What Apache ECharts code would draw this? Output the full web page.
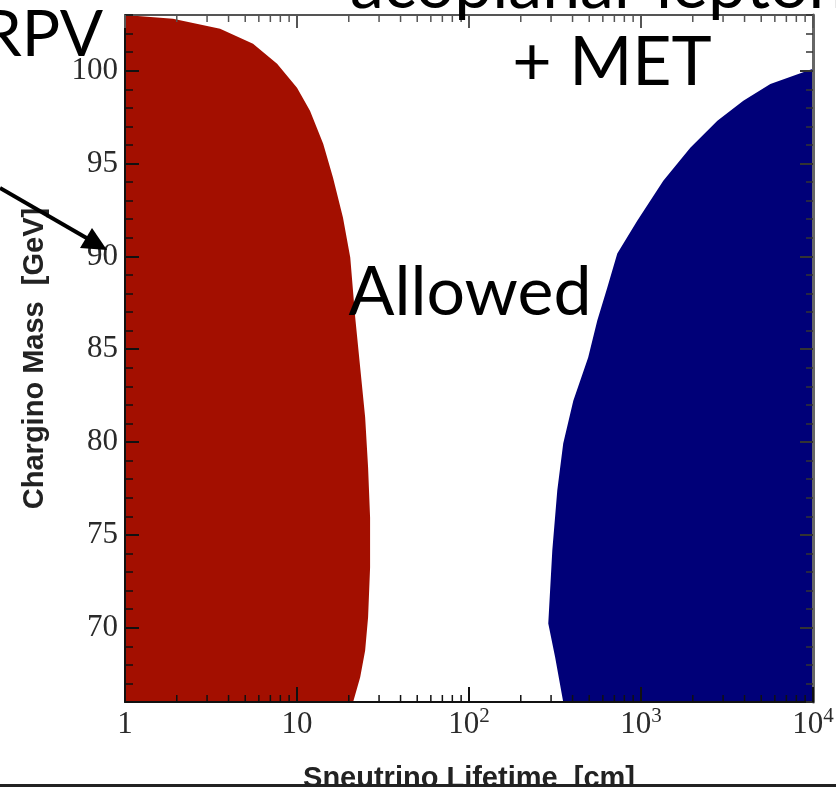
<!DOCTYPE html>
<html>
<head>
<meta charset="utf-8">
<script src="https://cdn.jsdelivr.net/npm/echarts@6/dist/echarts.min.js"></script>
<style>
html,body{margin:0;padding:0;background:#fff;}
#chart{width:836px;height:787px;}
</style>
</head>
<body>
<div id="chart"></div>
<script>
// ---- data ----
// Red excluded region (RPV): boundary, sneutrino lifetime [cm] vs chargino mass [GeV]
const redLife = [1, 1.9, 3.57, 5.55, 7.66, 10, 11.9, 14.2, 16.2, 18.5, 20.4, 21.8, 23.3, 24.9, 25.9, 26.6, 26.6, 25.9, 24.9, 23.3, 21.2, 1];
const redMass = [103, 102.8, 102.26, 101.45, 100.37, 99.08, 97.84, 96.07, 94.24, 92.09, 89.94, 86.71, 84.02, 81.33, 78.63, 75.94, 73.25, 70.56, 68.78, 67.33, 66, 66];
// Blue excluded region (acoplanar leptons + MET)
const blueLife = [10000, 5650, 3935, 2780, 1935, 1348, 951, 728, 637, 557, 493, 404, 353, 326, 305, 289, 317, 353, 10000];
const blueMass = [100.1, 99.29, 98.38, 97.3, 95.85, 94.07, 91.92, 90.15, 88.32, 86.54, 84.55, 82.23, 79.92, 77.39, 74.16, 70.23, 68.4, 66, 66];
// axes
const yMajorTicks = [70, 75, 80, 85, 90, 95, 100];
const xMinorTicks = [2,3,4,5,6,7,8,9,20,30,40,50,60,70,80,90,200,300,400,500,600,700,800,900,2000,3000,4000,5000,6000,7000,8000,9000];
const xRange = [1, 10000];
const yRange = [66, 103];
const xTitle = 'Sneutrino Lifetime  [cm]';
const yTitle = 'Chargino Mass  [GeV]';

const serif = 'Liberation Serif';
const sans = 'Liberation Sans';
const labelColor = '#2a2a2a';

function polygonRenderer(xs, ys, color) {
  return function (params, api) {
    if (params.dataIndex !== 0) return null;
    const pts = xs.map((x, i) => api.coord([x, ys[i]]));
    return { type: 'polygon', shape: { points: pts }, style: { fill: color } };
  };
}

const chart = echarts.init(document.getElementById('chart'), null, { renderer: 'canvas' });

const xLabelFmt = function (v) {
  const e = Math.round(Math.log10(v));
  if (e === 0) return '{b|1}';
  if (e === 1) return '{b|10}';
  return '{b|10}{s|' + e + '}';
};

const yBase = {
  type: 'value', min: yRange[0], max: yRange[1], scale: true,
  splitLine: { show: false }, z: 5
};

chart.setOption({
  animation: false,
  backgroundColor: '#fff',
  grid: { left: 125, right: 23, top: 15, bottom: 85, containLabel: false, outerBoundsMode: 'none' },
  xAxis: [
    {
      type: 'log', logBase: 10, min: xRange[0], max: xRange[1], position: 'bottom',
      splitLine: { show: false }, z: 5,
      axisLine: { show: true, lineStyle: { color: '#111', width: 2 } },
      axisTick: { show: true, inside: true, length: 15, lineStyle: { color: '#111', width: 2 } },
      minorTick: { show: false },
      axisLabel: {
        formatter: xLabelFmt, margin: 4, color: labelColor,
        rich: {
          b: { fontFamily: serif, fontSize: 31, color: labelColor, lineHeight: 34, verticalAlign: 'bottom' },
          s: { fontFamily: serif, fontSize: 21, color: labelColor, lineHeight: 21, verticalAlign: 'top' }
        }
      },
      name: xTitle, nameLocation: 'middle', nameGap: 62,
      nameTextStyle: { fontFamily: sans, fontWeight: 'bold', fontSize: 29, color: '#222' }
    },
    {
      type: 'log', logBase: 10, min: xRange[0], max: xRange[1], position: 'top',
      splitLine: { show: false }, z: 5,
      axisLine: { show: true, lineStyle: { color: '#555', width: 2 } },
      axisTick: { show: true, inside: true, length: 13, lineStyle: { color: '#555', width: 2 } },
      axisLabel: { show: false }
    }
  ],
  yAxis: [
    Object.assign({}, yBase, {
      position: 'left', interval: 1,
      axisLine: { show: true, lineStyle: { color: '#111', width: 2 } },
      axisTick: { show: true, inside: true, length: 8, lineStyle: { color: '#111', width: 1.5 } },
      axisLabel: {
        formatter: v => (v % 5 === 0 ? String(v) : ''),
        fontFamily: serif, fontSize: 31, color: labelColor, margin: 7,
        showMinLabel: true, showMaxLabel: true
      },
      name: yTitle, nameLocation: 'middle', nameGap: 76, nameRotate: 90,
      nameTextStyle: { fontFamily: sans, fontWeight: 'bold', fontSize: 29, color: '#222' }
    }),
    Object.assign({}, yBase, {
      position: 'left',
      axisLine: { show: false },
      axisTick: { show: true, inside: true, length: 14, customValues: yMajorTicks, lineStyle: { color: '#111', width: 2 } },
      axisLabel: { show: false }
    }),
    Object.assign({}, yBase, {
      position: 'right', interval: 1,
      axisLine: { show: true, lineStyle: { color: '#666', width: 3 } },
      axisTick: { show: true, inside: true, length: 7, lineStyle: { color: '#333', width: 1.5 } },
      axisLabel: { show: false }
    }),
    Object.assign({}, yBase, {
      position: 'right',
      axisLine: { show: false },
      axisTick: { show: true, inside: true, length: 13, customValues: yMajorTicks, lineStyle: { color: '#333', width: 2 } },
      axisLabel: { show: false }
    })
  ],
  series: [
    {
      type: 'custom', name: 'RPV', xAxisIndex: 0, yAxisIndex: 0, z: 1, clip: true,
      data: redLife.map((x, i) => [x, redMass[i]]),
      renderItem: polygonRenderer(redLife, redMass, '#a30f00')
    },
    {
      type: 'custom', name: 'acoplanar leptons + MET', xAxisIndex: 0, yAxisIndex: 0, z: 1, clip: true,
      data: blueLife.map((x, i) => [x, blueMass[i]]),
      renderItem: polygonRenderer(blueLife, blueMass, '#000078')
    },
    {
      type: 'custom', name: 'minor ticks', xAxisIndex: 0, yAxisIndex: 0, z: 6, silent: true,
      data: xMinorTicks.map(v => [v, yRange[0]]),
      renderItem: function (params, api) {
        const v = api.value(0);
        const b = api.coord([v, yRange[0]]);
        const t = api.coord([v, yRange[1]]);
        return {
          type: 'group', children: [
            { type: 'line', shape: { x1: b[0], y1: b[1], x2: b[0], y2: b[1] - 7 }, style: { stroke: '#111', lineWidth: 1.5 } },
            { type: 'line', shape: { x1: t[0], y1: t[1], x2: t[0], y2: t[1] + 7 }, style: { stroke: '#555', lineWidth: 1.5 } }
          ]
        };
      }
    }
  ],
  graphic: [
    { type: 'text', z: 100, style: { text: 'RPV', x: 103, y: 35, align: 'right', verticalAlign: 'middle', font: '400 64px Lato', fill: '#000' } },
    { type: 'text', z: 100, style: { text: 'acoplanar leptons', x: 350, y: -14, align: 'left', verticalAlign: 'middle', font: '400 68px Lato', fill: '#000' } },
    { type: 'text', z: 100, style: { text: '+ MET', x: 612, y: 63, align: 'center', verticalAlign: 'middle', font: '400 68px Lato', fill: '#000' } },
    { type: 'text', z: 100, style: { text: 'Allowed', x: 470, y: 293, align: 'center', verticalAlign: 'middle', font: '400 68px Lato', fill: '#000' } },
    { type: 'line', z: 100, shape: { x1: 0, y1: 188, x2: 90, y2: 240 }, style: { stroke: '#000', lineWidth: 4 } },
    { type: 'polygon', z: 100, shape: { points: [[107, 250], [92, 228], [80, 248]] }, style: { fill: '#000' } },
    { type: 'rect', z: 100, shape: { x: 0, y: 784, width: 836, height: 3 }, style: { fill: '#222' } }
  ]
});
</script>
</body>
</html>
